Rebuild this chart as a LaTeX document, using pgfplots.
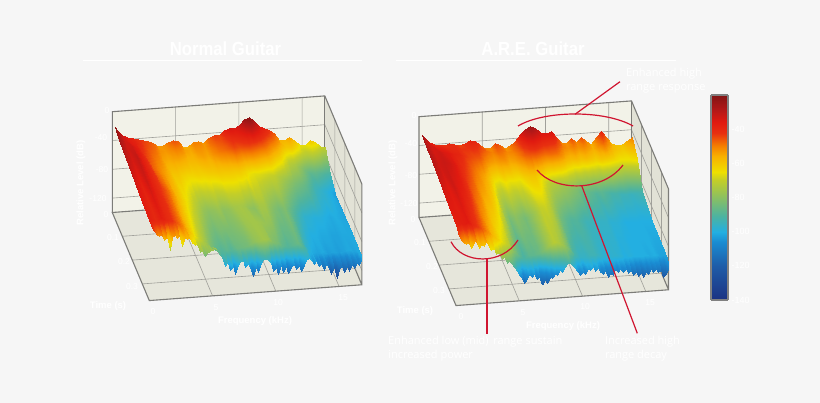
\documentclass[border=0pt]{standalone}
\usepackage{pgfplots}
\pgfplotsset{compat=1.18}
\usepackage{fontspec}
\setmainfont{Open Sans}
\newfontfamily\headf{Liberation Sans}
\definecolor{bgc}{HTML}{F6F6F6}
\definecolor{wallb}{HTML}{F2F2E8}
\definecolor{wallf}{HTML}{E6E6DB}
\definecolor{wallr}{HTML}{E2E2D6}
\definecolor{edge}{HTML}{7C7C78}
\definecolor{gridc}{HTML}{A0A09A}
\definecolor{redl}{HTML}{D01530}
\pgfplotsset{
 colormap={are}{rgb255(0pt)=(28,50,130); rgb255(20pt)=(30,92,168); rgb255(34pt)=(26,140,210); rgb255(40pt)=(35,175,225); rgb255(49pt)=(77,179,160); rgb255(60pt)=(140,192,96); rgb255(70pt)=(195,206,40); rgb255(75pt)=(238,224,0); rgb255(84pt)=(248,176,0); rgb255(90pt)=(245,128,0); rgb255(98pt)=(232,48,16); rgb255(104pt)=(224,26,16); rgb255(112pt)=(176,24,24); rgb255(120pt)=(130,20,20)},
 box3d/.style={hide axis,clip=false,anchor=origin,
  x={(12.65pt,0.94pt)},y={(100pt,-238pt)},z={(0pt,0.72pt)},
  xmin=0,xmax=16.8,ymin=0,ymax=0.37,zmin=-140,zmax=0,
  colormap name=are,point meta min=-140,point meta max=-20},
 wall/.style={draw=none,mark=none,forget plot},
 gl/.style={draw=gridc,line width=.6pt,mark=none,forget plot},
 el/.style={draw=edge,line width=1.1pt,mark=none,forget plot},
 surfstyle/.style={surf,shader=interp,mesh/cols=43,mesh/ordering=x varies,point meta=z,forget plot},
 skirt/.style={surf,shader=interp,mesh/cols=84,mesh/ordering=x varies,point meta=z,forget plot},
}
\newcommand{\frameback}{
 \addplot3[wall,fill=wallb] coordinates {(0,0,0)(16.8,0,0)(16.8,0,-140)(0,0,-140)};
 \addplot3[wall,fill=wallf] coordinates {(0,0,-140)(16.8,0,-140)(16.8,.37,-140)(0,.37,-140)};
 \addplot3[wall,fill=wallr] coordinates {(16.8,0,0)(16.8,.37,0)(16.8,.37,-140)(16.8,0,-140)};
 \addplot3[gl] coordinates {(5,0,0)(5,0,-140)(5,.37,-140)};
 \addplot3[gl] coordinates {(10,0,0)(10,0,-140)(10,.37,-140)};
 \addplot3[gl] coordinates {(15,0,0)(15,0,-140)(15,.37,-140)};
 \addplot3[gl] coordinates {(0,.1,-140)(16.8,.1,-140)(16.8,.1,0)};
 \addplot3[gl] coordinates {(0,.2,-140)(16.8,.2,-140)(16.8,.2,0)};
 \addplot3[gl] coordinates {(0,.3,-140)(16.8,.3,-140)(16.8,.3,0)};
 \addplot3[gl] coordinates {(0,0,-40)(16.8,0,-40)(16.8,.37,-40)};
 \addplot3[gl] coordinates {(0,0,-80)(16.8,0,-80)(16.8,.37,-80)};
 \addplot3[gl] coordinates {(0,0,-120)(16.8,0,-120)(16.8,.37,-120)};
 \addplot3[el] coordinates {(0,0,-140)(0,0,0)(16.8,0,0)(16.8,.37,0)(16.8,.37,-140)(0,.37,-140)(0,0,-140)(16.8,0,-140)(16.8,.37,-140)};
 \addplot3[el] coordinates {(16.8,0,0)(16.8,0,-140)};
}
\begin{document}
\begin{tikzpicture}[x=1pt,y=-1pt]
\fill[bgc] (0,0) rectangle (820,403);

\begin{axis}[box3d,at={(112.3pt,-111.7pt)}]
\frameback
\addplot3[surfstyle] table[row sep=\\,x index=0,y index=1,z index=2]{
.2 0 -21\\.4 0 -26\\.8 0 -33\\1.2 0 -37\\1.6 0 -39\\2 0 -41\\2.4 0 -43\\2.8 0 -45\\3.2 0 -47\\3.6 0 -53\\4 0 -52\\4.4 0 -48\\4.8 0 -45\\5.2 0 -47\\5.6 0 -56\\6 0 -55\\6.4 0 -50\\6.8 0 -50\\7.2 0 -53\\7.6 0 -47\\8 0 -43\\8.4 0 -44\\8.8 0 -37\\9.2 0 -34\\9.6 0 -35\\10 0 -32\\10.4 0 -24\\10.8 0 -21\\11.2 0 -28\\11.6 0 -35\\12 0 -38\\12.4 0 -42\\12.8 0 -46\\13.2 0 -56\\13.6 0 -57\\14 0 -54\\14.4 0 -58\\14.8 0 -66\\15.2 0 -66\\15.6 0 -60\\16 0 -63\\16.4 0 -69\\16.8 0 -71\\
.2 .02 -24\\.4 .02 -27\\.8 .02 -33\\1.2 .02 -36\\1.6 .02 -38\\2 .02 -41\\2.4 .02 -44\\2.8 .02 -46\\3.2 .02 -48\\3.6 .02 -52\\4 .02 -53\\4.4 .02 -51\\4.8 .02 -49\\5.2 .02 -50\\5.6 .02 -54\\6 .02 -55\\6.4 .02 -52\\6.8 .02 -52\\7.2 .02 -53\\7.6 .02 -49\\8 .02 -46\\8.4 .02 -45\\8.8 .02 -42\\9.2 .02 -40\\9.6 .02 -39\\10 .02 -37\\10.4 .02 -33\\10.8 .02 -31\\11.2 .02 -34\\11.6 .02 -39\\12 .02 -42\\12.4 .02 -46\\12.8 .02 -50\\13.2 .02 -56\\13.6 .02 -60\\14 .02 -60\\14.4 .02 -64\\14.8 .02 -70\\15.2 .02 -72\\15.6 .02 -70\\16 .02 -73\\16.4 .02 -77\\16.8 .02 -80\\
.2 .05 -27\\.4 .05 -29\\.8 .05 -33\\1.2 .05 -33\\1.6 .05 -37\\2 .05 -42\\2.4 .05 -45\\2.8 .05 -48\\3.2 .05 -50\\3.6 .05 -54\\4 .05 -55\\4.4 .05 -54\\4.8 .05 -54\\5.2 .05 -55\\5.6 .05 -57\\6 .05 -57\\6.4 .05 -55\\6.8 .05 -54\\7.2 .05 -55\\7.6 .05 -52\\8 .05 -49\\8.4 .05 -48\\8.8 .05 -46\\9.2 .05 -44\\9.6 .05 -45\\10 .05 -44\\10.4 .05 -44\\10.8 .05 -45\\11.2 .05 -47\\11.6 .05 -48\\12 .05 -52\\12.4 .05 -56\\12.8 .05 -60\\13.2 .05 -66\\13.6 .05 -72\\14 .05 -74\\14.4 .05 -78\\14.8 .05 -84\\15.2 .05 -88\\15.6 .05 -87\\16 .05 -89\\16.4 .05 -91\\16.8 .05 -92\\
.2 .1 -29\\.4 .1 -31\\.8 .1 -34\\1.2 .1 -31\\1.6 .1 -37\\2 .1 -41\\2.4 .1 -47\\2.8 .1 -50\\3.2 .1 -53\\3.6 .1 -56\\4 .1 -60\\4.4 .1 -60\\4.8 .1 -62\\5.2 .1 -63\\5.6 .1 -63\\6 .1 -62\\6.4 .1 -62\\6.8 .1 -61\\7.2 .1 -61\\7.6 .1 -60\\8 .1 -60\\8.4 .1 -60\\8.8 .1 -60\\9.2 .1 -60\\9.6 .1 -62\\10 .1 -65\\10.4 .1 -66\\10.8 .1 -67\\11.2 .1 -68\\11.6 .1 -69\\12 .1 -70\\12.4 .1 -73\\12.8 .1 -76\\13.2 .1 -79\\13.6 .1 -82\\14 .1 -84\\14.4 .1 -86\\14.8 .1 -90\\15.2 .1 -94\\15.6 .1 -96\\16 .1 -98\\16.4 .1 -100\\16.8 .1 -103\\
.2 .2 -33\\.4 .2 -35\\.8 .2 -38\\1.2 .2 -33\\1.6 .2 -38\\2 .2 -41\\2.4 .2 -44\\2.8 .2 -48\\3.2 .2 -53\\3.6 .2 -58\\4 .2 -62\\4.4 .2 -66\\4.8 .2 -70\\5.2 .2 -74\\5.6 .2 -78\\6 .2 -80\\6.4 .2 -79\\6.8 .2 -77\\7.2 .2 -80\\7.6 .2 -79\\8 .2 -76\\8.4 .2 -75\\8.8 .2 -76\\9.2 .2 -79\\9.6 .2 -80\\10 .2 -75\\10.4 .2 -75\\10.8 .2 -79\\11.2 .2 -82\\11.6 .2 -84\\12 .2 -82\\12.4 .2 -86\\12.8 .2 -90\\13.2 .2 -94\\13.6 .2 -97\\14 .2 -98\\14.4 .2 -99\\14.8 .2 -99\\15.2 .2 -100\\15.6 .2 -101\\16 .2 -100\\16.4 .2 -101\\16.8 .2 -102\\
.2 .27 -36\\.4 .27 -37\\.8 .27 -39\\1.2 .27 -35\\1.6 .27 -39\\2 .27 -41\\2.4 .27 -45\\2.8 .27 -49\\3.2 .27 -55\\3.6 .27 -60\\4 .27 -65\\4.4 .27 -70\\4.8 .27 -74\\5.2 .27 -79\\5.6 .27 -83\\6 .27 -85\\6.4 .27 -83\\6.8 .27 -83\\7.2 .27 -83\\7.6 .27 -82\\8 .27 -80\\8.4 .27 -77\\8.8 .27 -76\\9.2 .27 -76\\9.6 .27 -77\\10 .27 -78\\10.4 .27 -79\\10.8 .27 -83\\11.2 .27 -86\\11.6 .27 -86\\12 .27 -84\\12.4 .27 -88\\12.8 .27 -94\\13.2 .27 -98\\13.6 .27 -100\\14 .27 -100\\14.4 .27 -101\\14.8 .27 -101\\15.2 .27 -102\\15.6 .27 -102\\16 .27 -101\\16.4 .27 -101\\16.8 .27 -101\\
.2 .34 -38\\.4 .34 -38\\.8 .34 -40\\1.2 .34 -37\\1.6 .34 -40\\2 .34 -42\\2.4 .34 -46\\2.8 .34 -50\\3.2 .34 -56\\3.6 .34 -62\\4 .34 -68\\4.4 .34 -73\\4.8 .34 -78\\5.2 .34 -84\\5.6 .34 -88\\6 .34 -90\\6.4 .34 -88\\6.8 .34 -90\\7.2 .34 -86\\7.6 .34 -85\\8 .34 -84\\8.4 .34 -80\\8.8 .34 -78\\9.2 .34 -76\\9.6 .34 -77\\10 .34 -82\\10.4 .34 -84\\10.8 .34 -88\\11.2 .34 -90\\11.6 .34 -88\\12 .34 -86\\12.4 .34 -90\\12.8 .34 -98\\13.2 .34 -101\\13.6 .34 -102\\14 .34 -101\\14.4 .34 -103\\14.8 .34 -102\\15.2 .34 -103\\15.6 .34 -102\\16 .34 -101\\16.4 .34 -102\\16.8 .34 -101\\
};
\addplot3[skirt] table[row sep=\\,x index=0,y index=1,z index=2]{
.2 .34 -38\\.4 .34 -38\\.6 .34 -39\\.8 .34 -40\\1 .34 -38\\1.2 .34 -37\\1.4 .34 -38\\1.6 .34 -40\\1.8 .34 -41\\2 .34 -42\\2.2 .34 -44\\2.4 .34 -46\\2.6 .34 -48\\2.8 .34 -50\\3 .34 -53\\3.2 .34 -56\\3.4 .34 -59\\3.6 .34 -62\\3.8 .34 -65\\4 .34 -68\\4.2 .34 -70\\4.4 .34 -73\\4.6 .34 -75\\4.8 .34 -78\\5 .34 -81\\5.2 .34 -84\\5.4 .34 -86\\5.6 .34 -88\\5.8 .34 -89\\6 .34 -90\\6.2 .34 -89\\6.4 .34 -88\\6.6 .34 -89\\6.8 .34 -90\\7 .34 -88\\7.2 .34 -86\\7.4 .34 -85\\7.6 .34 -85\\7.8 .34 -84\\8 .34 -84\\8.2 .34 -82\\8.4 .34 -80\\8.6 .34 -79\\8.8 .34 -78\\9 .34 -77\\9.2 .34 -76\\9.4 .34 -76\\9.6 .34 -77\\9.8 .34 -80\\10 .34 -82\\10.2 .34 -83\\10.4 .34 -84\\10.6 .34 -86\\10.8 .34 -88\\11 .34 -89\\11.2 .34 -90\\11.4 .34 -89\\11.6 .34 -88\\11.8 .34 -87\\12 .34 -86\\12.2 .34 -88\\12.4 .34 -90\\12.6 .34 -94\\12.8 .34 -98\\13 .34 -100\\13.2 .34 -101\\13.4 .34 -102\\13.6 .34 -102\\13.8 .34 -101\\14 .34 -101\\14.2 .34 -102\\14.4 .34 -103\\14.6 .34 -102\\14.8 .34 -102\\15 .34 -102\\15.2 .34 -103\\15.4 .34 -102\\15.6 .34 -102\\15.8 .34 -101\\16 .34 -101\\16.2 .34 -101\\16.4 .34 -102\\16.6 .34 -101\\16.8 .34 -101\\
.2 .37 -40\\.4 .37 -44\\.6 .37 -50\\.8 .37 -52\\1 .37 -50\\1.2 .37 -58\\1.4 .37 -52\\1.6 .37 -72\\1.8 .37 -54\\2 .37 -52\\2.2 .37 -56\\2.4 .37 -52\\2.6 .37 -68\\2.8 .37 -56\\3 .37 -58\\3.2 .37 -56\\3.4 .37 -64\\3.6 .37 -68\\3.8 .37 -66\\4 .37 -78\\4.2 .37 -76\\4.4 .37 -84\\4.6 .37 -80\\4.8 .37 -78\\5 .37 -76\\5.2 .37 -74\\5.4 .37 -78\\5.6 .37 -80\\5.8 .37 -90\\6 .37 -100\\6.2 .37 -92\\6.4 .37 -106\\6.6 .37 -100\\6.8 .37 -112\\7 .37 -100\\7.2 .37 -96\\7.4 .37 -94\\7.6 .37 -104\\7.8 .37 -98\\8 .37 -108\\8.2 .37 -116\\8.4 .37 -104\\8.6 .37 -112\\8.8 .37 -100\\9 .37 -96\\9.2 .37 -94\\9.4 .37 -96\\9.6 .37 -100\\9.8 .37 -112\\10 .37 -106\\10.2 .37 -116\\10.4 .37 -104\\10.6 .37 -114\\10.8 .37 -106\\11 .37 -116\\11.2 .37 -108\\11.4 .37 -104\\11.6 .37 -112\\11.8 .37 -106\\12 .37 -114\\12.2 .37 -106\\12.4 .37 -100\\12.6 .37 -98\\12.8 .37 -100\\13 .37 -106\\13.2 .37 -102\\13.4 .37 -110\\13.6 .37 -106\\13.8 .37 -116\\14 .37 -108\\14.2 .37 -114\\14.4 .37 -122\\14.6 .37 -112\\14.8 .37 -128\\15 .37 -116\\15.2 .37 -112\\15.4 .37 -120\\15.6 .37 -114\\15.8 .37 -120\\16 .37 -110\\16.2 .37 -116\\16.4 .37 -108\\16.6 .37 -112\\16.8 .37 -101\\
};
\end{axis}

\begin{axis}[box3d,at={(419pt,-116.7pt)}]
\frameback
\addplot3[surfstyle] table[row sep=\\,x index=0,y index=1,z index=2]{
.2 0 -25\\.4 0 -29\\.8 0 -36\\1.2 0 -40\\1.6 0 -41\\2 0 -42\\2.4 0 -40\\2.8 0 -41\\3.2 0 -44\\3.6 0 -41\\4 0 -38\\4.4 0 -39\\4.8 0 -45\\5.2 0 -50\\5.6 0 -51\\6 0 -44\\6.4 0 -47\\6.8 0 -53\\7.2 0 -49\\7.6 0 -44\\8 0 -35\\8.4 0 -28\\8.8 0 -24\\9.2 0 -28\\9.6 0 -34\\10 0 -35\\10.4 0 -33\\10.8 0 -42\\11.2 0 -50\\11.6 0 -52\\12 0 -45\\12.4 0 -51\\12.8 0 -45\\13.2 0 -51\\13.6 0 -56\\14 0 -47\\14.4 0 -39\\14.8 0 -48\\15.2 0 -57\\15.6 0 -59\\16 0 -60\\16.4 0 -55\\16.8 0 -50\\
.2 .02 -27\\.4 .02 -30\\.8 .02 -34\\1.2 .02 -37\\1.6 .02 -38\\2 .02 -39\\2.4 .02 -40\\2.8 .02 -40\\3.2 .02 -42\\3.6 .02 -42\\4 .02 -41\\4.4 .02 -42\\4.8 .02 -45\\5.2 .02 -48\\5.6 .02 -50\\6 .02 -47\\6.4 .02 -48\\6.8 .02 -51\\7.2 .02 -50\\7.6 .02 -46\\8 .02 -40\\8.4 .02 -35\\8.8 .02 -33\\9.2 .02 -36\\9.6 .02 -39\\10 .02 -40\\10.4 .02 -40\\10.8 .02 -45\\11.2 .02 -50\\11.6 .02 -52\\12 .02 -49\\12.4 .02 -52\\12.8 .02 -50\\13.2 .02 -53\\13.6 .02 -56\\14 .02 -51\\14.4 .02 -47\\14.8 .02 -53\\15.2 .02 -58\\15.6 .02 -60\\16 .02 -61\\16.4 .02 -59\\16.8 .02 -56\\
.2 .05 -28\\.4 .05 -30\\.8 .05 -34\\1.2 .05 -33\\1.6 .05 -35\\2 .05 -36\\2.4 .05 -38\\2.8 .05 -39\\3.2 .05 -42\\3.6 .05 -44\\4 .05 -45\\4.4 .05 -46\\4.8 .05 -50\\5.2 .05 -53\\5.6 .05 -54\\6 .05 -52\\6.4 .05 -52\\6.8 .05 -55\\7.2 .05 -54\\7.6 .05 -50\\8 .05 -46\\8.4 .05 -44\\8.8 .05 -44\\9.2 .05 -46\\9.6 .05 -48\\10 .05 -48\\10.4 .05 -48\\10.8 .05 -52\\11.2 .05 -56\\11.6 .05 -58\\12 .05 -57\\12.4 .05 -60\\12.8 .05 -58\\13.2 .05 -60\\13.6 .05 -62\\14 .05 -60\\14.4 .05 -60\\14.8 .05 -62\\15.2 .05 -64\\15.6 .05 -66\\16 .05 -66\\16.4 .05 -66\\16.8 .05 -64\\
.2 .1 -29\\.4 .1 -30\\.8 .1 -33\\1.2 .1 -32\\1.6 .1 -33\\2 .1 -35\\2.4 .1 -39\\2.8 .1 -42\\3.2 .1 -45\\3.6 .1 -49\\4 .1 -52\\4.4 .1 -55\\4.8 .1 -60\\5.2 .1 -66\\5.6 .1 -68\\6 .1 -64\\6.4 .1 -66\\6.8 .1 -66\\7.2 .1 -66\\7.6 .1 -62\\8 .1 -60\\8.4 .1 -60\\8.8 .1 -64\\9.2 .1 -68\\9.6 .1 -72\\10 .1 -74\\10.4 .1 -76\\10.8 .1 -78\\11.2 .1 -80\\11.6 .1 -82\\12 .1 -86\\12.4 .1 -86\\12.8 .1 -88\\13.2 .1 -90\\13.6 .1 -88\\14 .1 -90\\14.4 .1 -92\\14.8 .1 -92\\15.2 .1 -94\\15.6 .1 -94\\16 .1 -95\\16.4 .1 -94\\16.8 .1 -92\\
.2 .2 -33\\.4 .2 -34\\.8 .2 -36\\1.2 .2 -33\\1.6 .2 -36\\2 .2 -38\\2.4 .2 -42\\2.8 .2 -47\\3.2 .2 -50\\3.6 .2 -56\\4 .2 -58\\4.4 .2 -62\\4.8 .2 -68\\5.2 .2 -78\\5.6 .2 -84\\6 .2 -80\\6.4 .2 -82\\6.8 .2 -84\\7.2 .2 -80\\7.6 .2 -76\\8 .2 -70\\8.4 .2 -69\\8.8 .2 -72\\9.2 .2 -78\\9.6 .2 -84\\10 .2 -88\\10.4 .2 -90\\10.8 .2 -90\\11.2 .2 -92\\11.6 .2 -94\\12 .2 -94\\12.4 .2 -96\\12.8 .2 -96\\13.2 .2 -96\\13.6 .2 -98\\14 .2 -98\\14.4 .2 -99\\14.8 .2 -100\\15.2 .2 -100\\15.6 .2 -100\\16 .2 -100\\16.4 .2 -100\\16.8 .2 -100\\
.2 .27 -36\\.4 .27 -36\\.8 .27 -37\\1.2 .27 -35\\1.6 .27 -38\\2 .27 -41\\2.4 .27 -45\\2.8 .27 -50\\3.2 .27 -54\\3.6 .27 -60\\4 .27 -63\\4.4 .27 -67\\4.8 .27 -75\\5.2 .27 -83\\5.6 .27 -88\\6 .27 -84\\6.4 .27 -85\\6.8 .27 -85\\7.2 .27 -81\\7.6 .27 -76\\8 .27 -71\\8.4 .27 -72\\8.8 .27 -75\\9.2 .27 -81\\9.6 .27 -88\\10 .27 -92\\10.4 .27 -93\\10.8 .27 -92\\11.2 .27 -93\\11.6 .27 -95\\12 .27 -96\\12.4 .27 -97\\12.8 .27 -97\\13.2 .27 -97\\13.6 .27 -99\\14 .27 -99\\14.4 .27 -100\\14.8 .27 -100\\15.2 .27 -100\\15.6 .27 -100\\16 .27 -100\\16.4 .27 -101\\16.8 .27 -101\\
.2 .34 -38\\.4 .34 -38\\.8 .34 -37\\1.2 .34 -36\\1.6 .34 -40\\2 .34 -43\\2.4 .34 -47\\2.8 .34 -52\\3.2 .34 -58\\3.6 .34 -63\\4 .34 -68\\4.4 .34 -72\\4.8 .34 -82\\5.2 .34 -88\\5.6 .34 -92\\6 .34 -88\\6.4 .34 -88\\6.8 .34 -86\\7.2 .34 -82\\7.6 .34 -76\\8 .34 -72\\8.4 .34 -74\\8.8 .34 -78\\9.2 .34 -84\\9.6 .34 -92\\10 .34 -96\\10.4 .34 -96\\10.8 .34 -94\\11.2 .34 -94\\11.6 .34 -96\\12 .34 -98\\12.4 .34 -98\\12.8 .34 -97\\13.2 .34 -98\\13.6 .34 -100\\14 .34 -99\\14.4 .34 -100\\14.8 .34 -100\\15.2 .34 -100\\15.6 .34 -101\\16 .34 -100\\16.4 .34 -102\\16.8 .34 -102\\
};
\addplot3[skirt] table[row sep=\\,x index=0,y index=1,z index=2]{
.2 .34 -38\\.4 .34 -38\\.6 .34 -38\\.8 .34 -37\\1 .34 -36\\1.2 .34 -36\\1.4 .34 -38\\1.6 .34 -40\\1.8 .34 -42\\2 .34 -43\\2.2 .34 -45\\2.4 .34 -47\\2.6 .34 -50\\2.8 .34 -52\\3 .34 -55\\3.2 .34 -58\\3.4 .34 -60\\3.6 .34 -63\\3.8 .34 -66\\4 .34 -68\\4.2 .34 -70\\4.4 .34 -72\\4.6 .34 -77\\4.8 .34 -82\\5 .34 -85\\5.2 .34 -88\\5.4 .34 -90\\5.6 .34 -92\\5.8 .34 -90\\6 .34 -88\\6.2 .34 -88\\6.4 .34 -88\\6.6 .34 -87\\6.8 .34 -86\\7 .34 -84\\7.2 .34 -82\\7.4 .34 -79\\7.6 .34 -76\\7.8 .34 -74\\8 .34 -72\\8.2 .34 -73\\8.4 .34 -74\\8.6 .34 -76\\8.8 .34 -78\\9 .34 -81\\9.2 .34 -84\\9.4 .34 -88\\9.6 .34 -92\\9.8 .34 -94\\10 .34 -96\\10.2 .34 -96\\10.4 .34 -96\\10.6 .34 -95\\10.8 .34 -94\\11 .34 -94\\11.2 .34 -94\\11.4 .34 -95\\11.6 .34 -96\\11.8 .34 -97\\12 .34 -98\\12.2 .34 -98\\12.4 .34 -98\\12.6 .34 -97\\12.8 .34 -97\\13 .34 -97\\13.2 .34 -98\\13.4 .34 -99\\13.6 .34 -100\\13.8 .34 -99\\14 .34 -99\\14.2 .34 -100\\14.4 .34 -100\\14.6 .34 -100\\14.8 .34 -100\\15 .34 -100\\15.2 .34 -100\\15.4 .34 -100\\15.6 .34 -101\\15.8 .34 -100\\16 .34 -100\\16.2 .34 -101\\16.4 .34 -102\\16.6 .34 -102\\16.8 .34 -102\\
.2 .37 -44\\.4 .37 -50\\.6 .37 -54\\.8 .37 -56\\1 .37 -54\\1.2 .37 -62\\1.4 .37 -54\\1.6 .37 -52\\1.8 .37 -62\\2 .37 -58\\2.2 .37 -60\\2.4 .37 -54\\2.6 .37 -62\\2.8 .37 -66\\3 .37 -64\\3.2 .37 -72\\3.4 .37 -72\\3.6 .37 -80\\3.8 .37 -78\\4 .37 -86\\4.2 .37 -84\\4.4 .37 -88\\4.6 .37 -92\\4.8 .37 -98\\5 .37 -104\\5.2 .37 -108\\5.4 .37 -116\\5.6 .37 -110\\5.8 .37 -104\\6 .37 -108\\6.2 .37 -104\\6.4 .37 -112\\6.6 .37 -108\\6.8 .37 -120\\7 .37 -114\\7.2 .37 -118\\7.4 .37 -110\\7.6 .37 -112\\7.8 .37 -106\\8 .37 -108\\8.2 .37 -102\\8.4 .37 -104\\8.6 .37 -98\\8.8 .37 -94\\9 .37 -92\\9.2 .37 -96\\9.4 .37 -100\\9.6 .37 -104\\9.8 .37 -110\\10 .37 -106\\10.2 .37 -110\\10.4 .37 -102\\10.6 .37 -104\\10.8 .37 -100\\11 .37 -106\\11.2 .37 -102\\11.4 .37 -108\\11.6 .37 -112\\11.8 .37 -108\\12 .37 -116\\12.2 .37 -112\\12.4 .37 -114\\12.6 .37 -106\\12.8 .37 -110\\13 .37 -106\\13.2 .37 -110\\13.4 .37 -106\\13.6 .37 -112\\13.8 .37 -108\\14 .37 -116\\14.2 .37 -112\\14.4 .37 -118\\14.6 .37 -114\\14.8 .37 -120\\15 .37 -112\\15.2 .37 -116\\15.4 .37 -110\\15.6 .37 -114\\15.8 .37 -110\\16 .37 -114\\16.2 .37 -112\\16.4 .37 -122\\16.6 .37 -118\\16.8 .37 -108\\
};
\end{axis}

\begin{axis}[at={(711pt,-300pt)},anchor=south west,scale only axis,width=17pt,height=205pt,
 xmin=0,xmax=1,ymin=-140,ymax=-20,view={0}{90},colormap name=are,point meta min=-140,point meta max=-20,
 xtick=\empty,ytick={-140,-120,-100,-80,-60,-40},ytick pos=right,yticklabel pos=right,tick style={draw=none},
 tick label style={text=white,font=\headf\fontsize{9}{10}\selectfont},/pgf/number format/assume math mode=true,
 axis line style={draw=gray,line width=1.2pt},axis on top]
\addplot3[surf,shader=interp,point meta=y] coordinates {
(0,-140,0)(1,-140,0)

(0,-120,0)(1,-120,0)

(0,-106,0)(1,-106,0)

(0,-100,0)(1,-100,0)

(0,-91,0)(1,-91,0)

(0,-80,0)(1,-80,0)

(0,-70,0)(1,-70,0)

(0,-65,0)(1,-65,0)

(0,-56,0)(1,-56,0)

(0,-50,0)(1,-50,0)

(0,-42,0)(1,-42,0)

(0,-36,0)(1,-36,0)

(0,-28,0)(1,-28,0)

(0,-20,0)(1,-20,0)
};
\end{axis}

% titles and rules
\draw[white,line width=.8pt] (83,60.3)--(362,60.3);
\draw[white,line width=.8pt] (396,60.3)--(676,60.3);
\node[white,font=\headf\bfseries\fontsize{19}{21}\selectfont] at (225.5,49) {\scalebox{.88}[1]{Normal Guitar}};
\node[white,font=\headf\bfseries\fontsize{19}{21}\selectfont] at (533,49) {\scalebox{.88}[1]{A.R.E. Guitar}};
% axis labels
\begin{scope}[every node/.style={white,font=\headf\bfseries\fontsize{9.5}{10}\selectfont}]
\node at (108,306) {Time (s)};
\node at (255,321) {Frequency (kHz)};
\node[rotate=90] at (81,183) {Relative Level (dB)};
\node at (415,311) {Time (s)};
\node at (563,326) {Frequency (kHz)};
\node[rotate=90] at (393,183) {Relative Level (dB)};
\end{scope}
\begin{scope}[every node/.style={white,font=\headf\fontsize{8.5}{9}\selectfont}]
\node at (153,312) {0};\node at (216,308) {5};\node at (278,303) {10};\node at (343,298) {15};
\node at (106,215) {0};\node at (113,238) {0.1};\node at (124,262) {0.2};\node at (132,287) {0.3};
\node at (107,111) {0};\node at (101,138) {-40};\node at (102,170) {-80};\node at (98,199) {-120};
\node at (461,317) {0};\node at (523,313) {5};\node at (585,307) {10};\node at (650,303) {15};
\node at (413,220) {0};\node at (420,243) {0.1};\node at (432,267) {0.2};\node at (439,291) {0.3};
\node at (414,116) {0};\node at (411,144) {-40};\node at (411,176) {-80};\node at (409,204) {-120};
\end{scope}
% annotations
\begin{scope}[redl,line width=1.2pt]
\draw (518,126) .. controls (545,110) and (605,110) .. (633,126);
\draw (575,114.3)--(620,81.7);
\draw (537,170) .. controls (555,192) and (603,192) .. (623,165);
\draw (581.7,185.7)--(637.3,333.3);
\draw (451,241.7) .. controls (462,264) and (502,266) .. (518,240);
\draw (487,259)--(487,334);
\end{scope}
\begin{scope}[every node/.style={white,anchor=west,font=\fontsize{11}{14}\selectfont,align=left}]
\node at (622.5,81) {Enhanced high\\range response};
\node at (384.7,349) {Enhanced low (mid)\, range sustain\\increased power};
\node at (601.5,349) {Increased high\\range decay};
\end{scope}
\end{tikzpicture}
\end{document}
